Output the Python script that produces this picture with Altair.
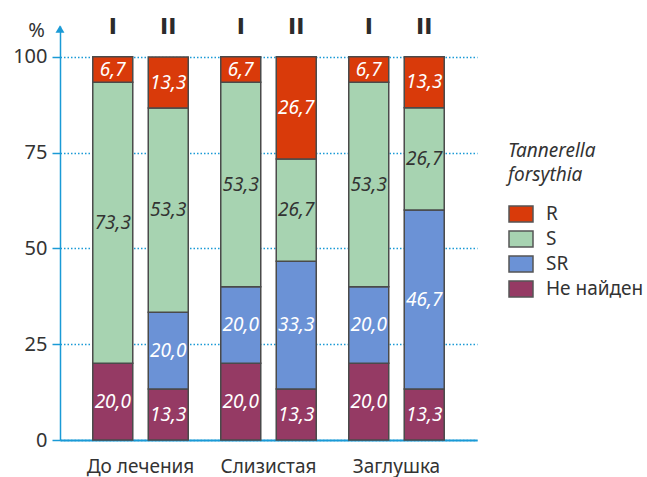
import altair as alt
import pandas as pd

groups = ["До лечения", "Слизистая", "Заглушка"]
subs = ["I", "II"]
categories = ["Не найден", "SR", "S", "R"]          # stacking order, bottom to top
legend_order = ["R", "S", "SR", "Не найден"]
colors = ["#d93a0a", "#a7d3b1", "#6b92d6", "#953a64"]

not_found = [20.0, 13.3, 20.0, 13.3, 20.0, 13.3]
sr_vals = [0.0, 20.0, 20.0, 33.3, 20.0, 46.7]
s_vals = [73.3, 53.3, 53.3, 26.7, 53.3, 26.7]
r_vals = [6.7, 13.3, 6.7, 26.7, 6.7, 13.3]

series = {"Не найден": not_found, "SR": sr_vals, "S": s_vals, "R": r_vals}
rows = []
i = 0
for g in groups:
    for sub in subs:
        for k, cat in enumerate(categories):
            rows.append({"group": g, "sub": sub, "cat": cat, "ord": k, "value": series[cat][i]})
        i += 1
df = pd.DataFrame(rows)

FONT = "Noto Sans"
BLUE = "#1a9ad6"
TXT = "#333333"

xenc = alt.X("group:N", sort=groups,
             scale=alt.Scale(paddingInner=0.254, paddingOuter=0.256),
             axis=alt.Axis(title=None, ticks=False, domainColor=BLUE, domainWidth=2,
                           labelFontSize=19, labelColor=TXT, labelPadding=17, labelAngle=0,
                           labelFont=FONT))
xoff = alt.XOffset("sub:N", sort=subs, scale=alt.Scale(paddingInner=0.279, paddingOuter=0))

base = alt.Chart(df).transform_stack(
    stack="value", groupby=["group", "sub"], as_=["y0", "y1"],
    sort=[alt.SortField("ord", order="ascending")]
).transform_calculate(
    mid="(datum.y0 + datum.y1) / 2",
    label="replace(format(datum.value, '.1f'), '.', ',')"
)

bars = base.mark_bar(stroke="#4a4a4a", strokeWidth=1.5).encode(
    x=xenc, xOffset=xoff,
    y=alt.Y("y0:Q", scale=alt.Scale(domain=[0, 108], nice=False),
            axis=alt.Axis(values=[0, 25, 50, 75, 100], title="%", titleAngle=0,
                          titleX=-24, titleY=4, titleBaseline="middle", titleAlign="center",
                          titleFontSize=20, titleFontWeight="normal", titleColor=TXT, titleFont=FONT,
                          labelFontSize=20, labelColor=TXT, labelFont=FONT, labelPadding=5,
                          tickColor=BLUE, tickSize=8, tickWidth=1.5,
                          domainColor=BLUE, domainWidth=1.5,
                          grid=True, gridColor=BLUE, gridDash=[1.5, 2], gridWidth=1.5)),
    y2="y1:Q",
    color=alt.Color("cat:N", scale=alt.Scale(domain=legend_order, range=colors),
                    legend=alt.Legend(title=["Tannerella", "forsythia"], orient="none",
                                      legendX=448, legendY=116,
                                      titleFont=FONT, titleFontSize=19, titleFontStyle="italic",
                                      titleFontWeight="normal", titleColor=TXT, titleLineHeight=24,
                                      titlePadding=16,
                                      labelFont=FONT, labelFontSize=19, labelColor=TXT, labelOffset=12,
                                      symbolType="M-1,-0.67H1V0.67H-1Z", symbolSize=576,
                                      symbolStrokeColor="#555555", symbolStrokeWidth=1.5,
                                      symbolOpacity=1, rowPadding=0)),
)

texts = base.transform_filter("datum.value > 0").mark_text(
    font=FONT, fontSize=19, fontStyle="italic", baseline="middle"
).encode(
    x=alt.X("group:N", sort=groups), xOffset=xoff,
    y=alt.Y("mid:Q"),
    text="label:N",
    color=alt.condition("datum.cat == 'S'", alt.value(TXT), alt.value("white")),
)

top = alt.Chart(df).transform_filter("datum.cat == 'R'").mark_text(
    font="DejaVu Sans", fontSize=22, fontWeight="bold", color="#2b2b2b", baseline="middle"
).encode(
    x=alt.X("group:N", sort=groups), xOffset=xoff,
    y=alt.value(1),
    text="sub:N",
)

arrow = alt.Chart(df).transform_filter("datum.cat == 'R' && datum.sub == 'I'").transform_aggregate(
    n="count()"
).mark_point(shape="triangle-up", filled=True, size=80, color=BLUE, opacity=1).encode(
    x=alt.value(0), y=alt.value(3)
)

chart = alt.layer(bars, texts, top, arrow).properties(
    width=417, height=414
).configure(
    padding={"left": 60, "top": 26, "right": 170, "bottom": 37}, autosize="none"
).configure_view(stroke=None)

chart.save("out.html", embed_options={"renderer": "svg", "actions": False})
